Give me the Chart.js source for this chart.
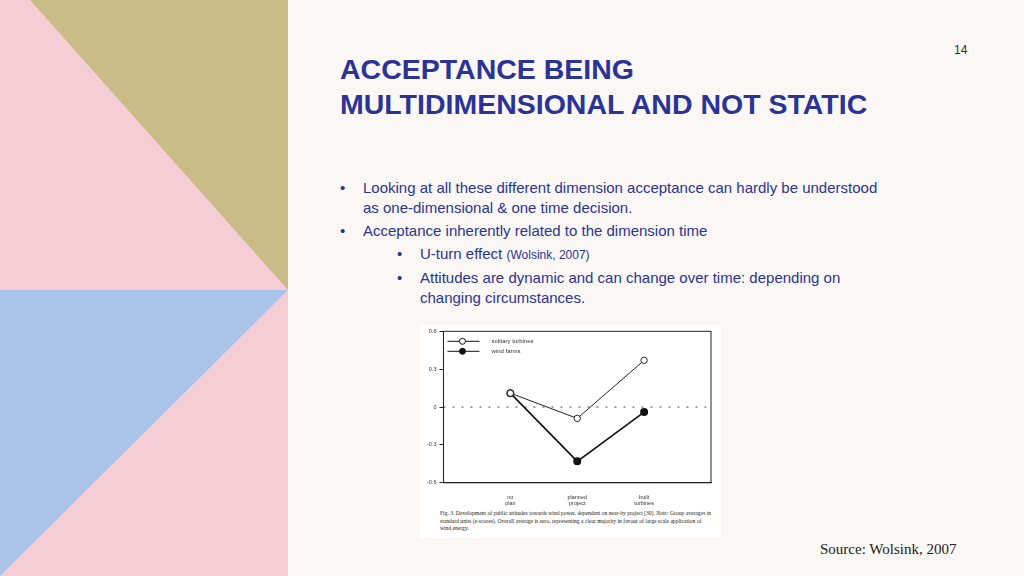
<!DOCTYPE html>
<html><head><meta charset="utf-8">
<script src="https://cdn.jsdelivr.net/npm/chart.js@4"></script>
<style>
body{margin:0;width:1024px;height:576px;background:#faf7f4;position:relative;overflow:hidden;font-family:"Liberation Sans",Arial,sans-serif}
.p{position:absolute}
h1{position:absolute;left:340px;top:52px;margin:0;font-size:28.5px;line-height:35px;color:#2b3494;font-weight:bold}
ul{position:absolute;left:340px;top:178px;width:540px;margin:0;padding:0;list-style:none;color:#2b3494;font-size:15px;line-height:20px}
li{position:relative;padding-left:23px;margin-bottom:3px}
li:before{content:"\2022";position:absolute;left:0}
li.s{margin-left:57px}
#box{position:absolute;left:420px;top:325px;width:301px;height:213px;background:#fff}
#cap{position:absolute;left:440px;top:510px;width:272px;font-family:"Liberation Serif",serif;font-size:5.6px;line-height:7.5px;color:#222}
</style></head><body>
<div class="p" style="left:0;top:0;width:288px;height:576px;background:#f4cdd5"></div>
<div class="p" style="left:0;top:0;width:288px;height:290px;background:#c9bc86;clip-path:polygon(30px 0,288px 0,288px 290px)"></div>
<div class="p" style="left:0;top:290px;width:288px;height:286px;background:#a9c4e8;clip-path:polygon(0 0,288px 0,0 286px)"></div>
<div class="p" style="left:954px;top:43px;font-size:12px;color:#333">14</div>
<h1>ACCEPTANCE BEING<br>MULTIDIMENSIONAL AND NOT STATIC</h1>
<ul>
<li>Looking at all these different dimension acceptance can hardly be understood as one-dimensional &amp; one time decision.</li>
<li>Acceptance inherently related to the dimension time</li>
<li class="s">U-turn effect <span style="font-size:12px">(Wolsink, 2007)</span></li>
<li class="s">Attitudes are dynamic and can change over time: depending on changing circumstances.</li>
</ul>
<div id="box"><canvas id="c" width="301" height="185"></canvas></div>
<div id="cap">Fig. 3. Development of public attitudes towards wind power, dependent on near-by project [30]. <i>Note:</i> Group averages in standard units (z-scores). Overall average is zero, representing a clear majority in favour of large scale application of wind energy.</div>
<div class="p" style="left:820px;top:541px;font-family:'Liberation Serif',serif;font-size:15px;color:#222">Source: Wolsink, 2007</div>
<script>
var stages = [1, 2, 3];
var stageLabels = [['no', 'plan'], ['planned', 'project'], ['built', 'turbines']];
var solitary = [0.11, -0.09, 0.37];
var windFarms = [0.11, -0.43, -0.04];
var yTicks = [0.6, 0.3, 0, -0.3, -0.6];

function pts(v) { return stages.map(function (s, i) { return {x: s, y: v[i]}; }); }

var legendPlugin = {
  id: 'miniLegend',
  afterDraw: function (chart) {
    var c = chart.ctx, a = chart.chartArea;
    c.strokeStyle = '#222'; c.lineWidth = 1;
    c.strokeRect(a.left, a.top, a.right - a.left, a.bottom - a.top);
    [['solitary turbines', '#fff'], ['wind farms', '#111']].forEach(function (it, i) {
      var y = a.top + 10 + i * 10;
      c.strokeStyle = '#111'; c.lineWidth = 1;
      c.beginPath(); c.moveTo(a.left + 4, y); c.lineTo(a.left + 36, y); c.stroke();
      c.fillStyle = it[1]; c.beginPath(); c.arc(a.left + 19, y, 3, 0, 7); c.fill(); c.stroke();
      c.fillStyle = '#333'; c.font = '6px Liberation Sans'; c.textBaseline = 'middle';
      c.fillText(it[0], a.left + 48, y);
    });
  }
};

new Chart(document.getElementById('c').getContext('2d'), {
  type: 'line',
  data: {
    datasets: [
      {data: pts(solitary), borderColor: '#222', borderWidth: 1, pointRadius: 3.2, pointBackgroundColor: '#fff', pointBorderColor: '#222'},
      {data: pts(windFarms), borderColor: '#111', borderWidth: 1.6, pointRadius: 3.2, pointBackgroundColor: '#111', pointBorderColor: '#111'},
      {data: [{x: 0, y: 0}, {x: 4, y: 0}], borderColor: '#444', borderWidth: 1, borderDash: [2, 7], pointRadius: 0}
    ]
  },
  plugins: [legendPlugin],
  options: {
    responsive: false, animation: false,
    layout: {padding: {left: 4, right: 10, top: 6, bottom: 0}},
    plugins: {legend: {display: false}, tooltip: {enabled: false}},
    scales: {
      x: {type: 'linear', min: 0, max: 4,
        afterBuildTicks: function (s) { s.ticks = stages.map(function (v) { return {value: v}; }); },
        ticks: {font: {size: 5.5}, color: '#333', callback: function (v) { return stageLabels[v - 1]; }},
        grid: {display: false}, border: {color: '#222'}},
      y: {min: -0.6, max: 0.6,
        afterBuildTicks: function (s) { s.ticks = yTicks.map(function (v) { return {value: v}; }); },
        ticks: {font: {size: 5.5}, color: '#333', padding: 3, callback: function (v) { return String(v); }},
        grid: {drawOnChartArea: false, tickLength: 4, color: '#222'}, border: {color: '#222'}}
    }
  }
});
</script>
</body></html>
